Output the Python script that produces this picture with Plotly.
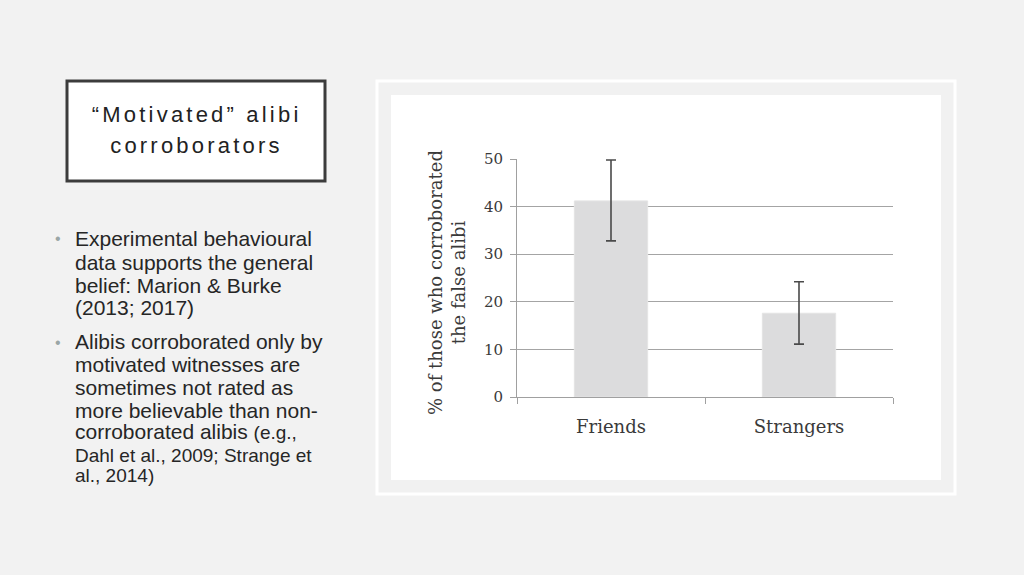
import plotly.graph_objects as go

W, H = 1024, 575

# ---- data ----
categories = ["Friends", "Strangers"]
values = [41.2, 17.6]
err_plus = [8.6, 6.6]
err_minus = [8.4, 6.5]
y_ticks = [0, 10, 20, 30, 40, 50]

title_lines = ["\u201cMotivated\u201d alibi", "corroborators"]
bullet1 = ["Experimental behavioural", "data supports the general",
           "belief: Marion & Burke", "(2013; 2017)"]
bullet2 = ["Alibis corroborated only by", "motivated witnesses are",
           "sometimes not rated as", "more believable than non-",
           "corroborated alibis <span style='font-size:19px'>(e.g.,</span>"]
bullet2_small = ["Dahl et al., 2009; Strange et", "al., 2014)"]


def px(x):
    return x / W


def py(y):
    return 1 - y / H


fig = go.Figure()
fig.add_trace(go.Bar(
    x=categories, y=values, width=0.39,
    marker=dict(color="#dcdcdd", line=dict(color="#e4e4e4", width=1)),
    error_y=dict(type="data", symmetric=False, array=err_plus, arrayminus=err_minus,
                 color="#4a4a4a", thickness=1.6, width=5),
    showlegend=False,
))

serif = "DejaVu Serif"
fig.update_layout(
    template="none",
    width=W, height=H, autosize=False,
    margin=dict(l=0, r=0, t=0, b=0, pad=0),
    paper_bgcolor="#f2f2f2",
    plot_bgcolor="rgba(0,0,0,0)",
    xaxis=dict(domain=[px(517), px(893)], range=[-0.5, 1.5], automargin=False,
               showline=True, linecolor="#a0a0a0", linewidth=1,
               ticks="outside", tickson="boundaries", ticklen=6, tickcolor="#a0a0a0",
               showgrid=False,
               tickfont=dict(family=serif, size=18, color="#3a3a3a"),
               ticklabelstandoff=13),
    yaxis=dict(domain=[py(397), py(159)], range=[0, 50], tickvals=y_ticks, automargin=False,
               showline=True, linecolor="#a0a0a0", linewidth=1,
               ticks="outside", ticklen=6, tickcolor="#a0a0a0",
               showgrid=True, gridcolor="#a4a4a4", gridwidth=1.2, zeroline=False,
               tickfont=dict(family=serif, size=15, color="#3a3a3a"),
               ticklabelstandoff=4),
)

shapes = [
    # chart frame outer line
    dict(type="rect", xref="paper", yref="paper", x0=px(377), x1=px(955), y0=py(494), y1=py(81),
         line=dict(color="#ffffff", width=3), fillcolor="#f1f1f1", layer="below"),
    # white panel
    dict(type="rect", xref="paper", yref="paper", x0=px(391), x1=px(941), y0=py(480), y1=py(95),
         line=dict(width=0), fillcolor="#ffffff", layer="below"),
    # title box
    dict(type="rect", xref="paper", yref="paper", x0=px(67), x1=px(325), y0=py(181), y1=py(81),
         line=dict(color="#3c3c3c", width=3), fillcolor="#ffffff", layer="below"),
]
fig.update_layout(shapes=shapes)

ann = []
# y-axis title
ann.append(dict(x=px(447), y=py(283), xref="paper", yref="paper", showarrow=False,
                text="% of those who corroborated<br>the false alibi", textangle=-90,
                font=dict(family=serif, size=18, color="#3a3a3a"),
                xanchor="center", yanchor="middle", align="center"))
# title box text
for t, yc in zip(title_lines, [115, 145]):
    ann.append(dict(x=px(196), y=py(yc), xref="paper", yref="paper", showarrow=False,
                    text=t, font=dict(family="Liberation Sans", size=22, color="#222222"),
                    xanchor="center", yanchor="middle"))
# bullets
for yc in [239, 342]:
    ann.append(dict(x=px(58), y=py(yc), xref="paper", yref="paper", showarrow=False,
                    text="\u2022", font=dict(family="Liberation Sans", size=16, color="#9aa6a6"),
                    xanchor="center", yanchor="middle"))
for t, yc in zip(bullet1 + bullet2, [239, 262, 285, 307, 341, 364, 387, 410, 432]):
    ann.append(dict(x=px(73), y=py(yc), xref="paper", yref="paper", showarrow=False,
                    text=t, font=dict(family="Liberation Sans", size=21, color="#262626"),
                    xanchor="left", yanchor="middle", align="left"))
for t, yc in zip(bullet2_small, [455, 475]):
    ann.append(dict(x=px(73), y=py(yc), xref="paper", yref="paper", showarrow=False,
                    text=t, font=dict(family="Liberation Sans", size=19, color="#262626"),
                    xanchor="left", yanchor="middle", align="left"))
fig.update_layout(annotations=ann)

post = ("document.body.style.margin='0';document.body.style.overflow='hidden';"
        "var gd=document.getElementById('{plot_id}');"
        "gd.querySelectorAll('.annotation-text').forEach(function(t){"
        "var s=t.textContent; if(s.indexOf('Motivated')>=0||s.indexOf('corroborators')>=0){"
        "t.style.letterSpacing='3.2px';}});")

fig.write_html("out.html", post_script=post,
               config={"displayModeBar": False, "responsive": False})
